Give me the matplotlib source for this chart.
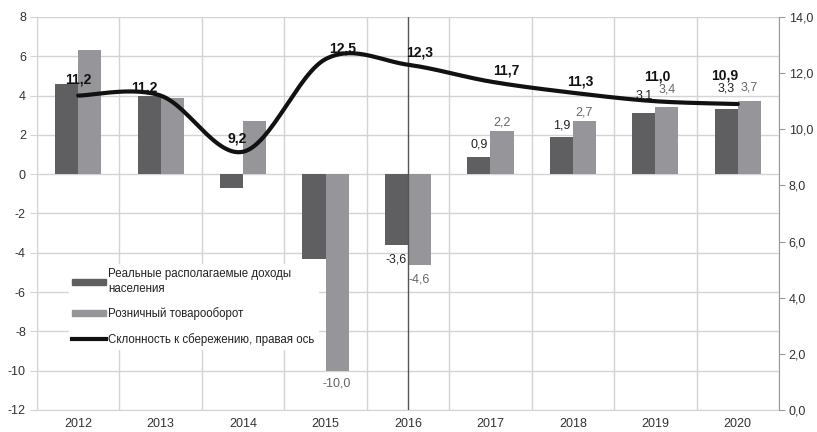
import matplotlib.pyplot as plt
import numpy as np
from matplotlib.patches import Patch
from matplotlib.lines import Line2D

plt.rcParams['font.family'] = ['Liberation Sans', 'DejaVu Sans']
plt.rcParams['axes.unicode_minus'] = False

# Данные
years = ['2012', '2013', '2014', '2015', '2016', '2017', '2018', '2019', '2020']
income = [4.6, 4.0, -0.7, -4.3, -3.6, 0.9, 1.9, 3.1, 3.3]
retail = [6.3, 3.9, 2.7, -10.0, -4.6, 2.2, 2.7, 3.4, 3.7]
savings = [11.2, 11.2, 9.2, 12.5, 12.3, 11.7, 11.3, 11.0, 10.9]

# смещения подписей (пиксели), None - без подписи
income_off = [None, None, None, None, -15, 12, 11, 18, 21]
retail_off = [None, None, None, -13, -15, 8, 9, 18, 14]
sav_off = [(0, 16), (-16, 8), (-6, 13), (17, 11), (12, 12),
           (16, 11), (7, 11), (2, 25), (-13, 29)]

dark = '#5f5f62'
light = '#96969a'
grid_c = '#d4d4d4'


def fmt(v):
    return f'{v:.1f}'.replace('.', ',')


# сглаживание как в Excel (Catmull-Rom)
def smooth(x, y, n=30):
    x = np.asarray(x, float)
    y = np.asarray(y, float)
    px = np.r_[x[0], x, x[-1]]
    py = np.r_[y[0], y, y[-1]]
    xs, ys = [], []
    t = np.linspace(0, 1, n)
    for i in range(1, len(x)):
        p0 = np.array([px[i], py[i]])
        p3 = np.array([px[i + 1], py[i + 1]])
        c1 = p0 + (np.array([px[i + 1], py[i + 1]]) - np.array([px[i - 1], py[i - 1]])) / 6
        c2 = p3 - (np.array([px[i + 2], py[i + 2]]) - p0) / 6
        b = ((1 - t) ** 3)[:, None] * p0 + (3 * (1 - t) ** 2 * t)[:, None] * c1 \
            + (3 * (1 - t) * t ** 2)[:, None] * c2 + (t ** 3)[:, None] * p3
        xs.append(b[:, 0])
        ys.append(b[:, 1])
    return np.concatenate(xs), np.concatenate(ys)


fig = plt.figure(figsize=(8.17, 4.32), dpi=100)
ax = fig.add_axes([37 / 817, 1 - 410 / 432, 742 / 817, 393 / 432])
x = np.arange(len(years))
w = 0.28

ax.bar(x - w / 2, income, w, color=dark, zorder=3)
ax.bar(x + w / 2, retail, w, color=light, zorder=3)

ax.set_xlim(-0.5, len(years) - 0.5)
ax.set_ylim(-12, 8)
ax.set_yticks(range(-12, 9, 2))
ax.set_xticks(x)
ax.set_xticklabels(years)
ax.set_xticks(np.arange(-0.5, len(years), 1), minor=True)
ax.grid(True, which='minor', axis='x', color=grid_c, lw=1, zorder=0)
ax.grid(True, which='major', axis='y', color=grid_c, lw=1, zorder=0)
ax.set_axisbelow(True)
ax.tick_params(axis='x', which='both', length=0, labelsize=9, colors='#333333', pad=6)
ax.tick_params(axis='y', length=5, color=grid_c, labelsize=9, labelcolor='#333333', pad=3)
for s in ['top', 'right']:
    ax.spines[s].set_visible(False)
ax.spines['left'].set_color(grid_c)
ax.spines['bottom'].set_color(grid_c)

# линия прогноза
ax.axvline(4, color='#555555', lw=1, zorder=4)

for i in range(len(years)):
    if income_off[i] is not None:
        ax.annotate(fmt(income[i]), (x[i] - w / 2, income[i]),
                    xytext=(0, income_off[i]), textcoords='offset pixels',
                    ha='center', va='center', fontsize=9, color='#222222', zorder=6)
    if retail_off[i] is not None:
        ax.annotate(fmt(retail[i]), (x[i] + w / 2, retail[i]),
                    xytext=(0, retail_off[i]), textcoords='offset pixels',
                    ha='center', va='center', fontsize=9, color='#666666', zorder=6)

handles = [Patch(color=dark), Patch(color=light),
           Line2D([], [], color='#111111', lw=3)]
labels = ['Реальные располагаемые доходы\nнаселения', 'Розничный товарооборот',
          'Склонность к сбережению, правая ось']
leg = ax.legend(handles, labels, loc='upper left', bbox_to_anchor=(0.035, 0.385),
                fontsize=8.3, frameon=True, facecolor='white', edgecolor='white',
                framealpha=1, fancybox=False, handlelength=2.9, handleheight=0.45,
                handletextpad=0.2, labelspacing=1.1, borderpad=0.3)
leg.set_zorder(2)
for t in leg.get_texts():
    t.set_color('#222222')
leg.get_texts()[0].set_linespacing(1.3)

ax2 = ax.twinx()
ax2.set_ylim(0, 14)
ax2.set_yticks(np.arange(0, 15, 2))
ax2.set_yticklabels([fmt(v) for v in np.arange(0, 15, 2)])
ax2.tick_params(axis='y', length=4, color='#999999', labelsize=9, labelcolor='#333333', pad=3)
for s in ['top', 'left', 'bottom']:
    ax2.spines[s].set_visible(False)
ax2.spines['right'].set_color('#999999')

sx, sy = smooth(x, savings)
ax2.plot(sx, sy, color='#111111', lw=3, solid_capstyle='round', zorder=5)
for i in range(len(years)):
    ax2.annotate(fmt(savings[i]), (x[i], savings[i]), xytext=sav_off[i],
                 textcoords='offset pixels', ha='center', va='center',
                 fontsize=10, fontweight='bold', color='#111111')

fig.savefig('out.png', dpi=100)
